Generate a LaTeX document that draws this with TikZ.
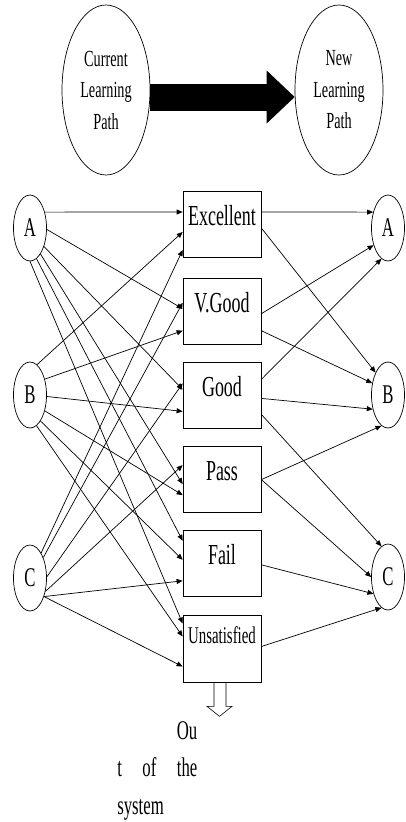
\documentclass[tikz,border=0pt]{standalone}
\usepackage{fontspec}
\setmainfont{Liberation Serif}[FakeStretch=0.62]
\usetikzlibrary{arrows.meta,positioning,shapes.geometric}

\begin{document}
\begin{tikzpicture}[
  x=1pt, y=1pt, line width=0.7pt, node distance=17.5pt,
  lpath/.style={draw, ellipse, minimum width=88pt, minimum height=170pt,
                inner sep=0pt, align=center,
                font=\fontsize{23}{31.5}\selectfont},
  state/.style={draw, ellipse, minimum width=33pt, minimum height=66pt,
                inner sep=0pt, font=\fontsize{27}{30}\selectfont},
  grade/.style={draw, minimum width=78pt, inner sep=0pt,
                text height=34pt, text depth=32pt,
                font=\fontsize{29}{34}\selectfont},
  bigarrow/.style={line width=27pt,
                   -{Triangle[length=28pt,width=53pt,line width=0pt]}},
  hollow/.style={draw, line width=0.6pt},
  >={Triangle[length=6pt,width=5pt]}]
\useasboundingbox (0,0) rectangle (406,-822);

% learning paths
\node[lpath] (cur) at (106,-90) {Current\\Learning\\Path};
\node[lpath] (new) at (339,-90) {New\\Learning\\Path};
\draw[bigarrow] ([yshift=-7pt]cur.east) -- ([yshift=-7pt]new.west);

% current states
\node[state] (lA) at (30,-228) {A};
\node[state] (lB) at (30,-395) {B};
\node[state] (lC) at (30,-578) {C};

% grades
\node[grade] (exc) at (222,-224.5) {Excellent};
\node[grade, below=20pt of exc] (vg) {V.Good};
\node[grade, below=of vg] (good) {Good};
\node[grade, below=of good] (pass) {Pass};
\node[grade, below=of pass] (fail) {Fail};
\node[grade, below=of fail, text height=28pt, text depth=39pt,
      font=\fontsize{24}{28}\selectfont] (uns) {Unsatisfied};

% new states
\node[state] (rA) at (388,-228) {A};
\node[state] (rB) at (388,-395) {B};
\node[state] (rC) at (388,-577) {C};

% from A
\draw[->] (lA.47) -- ([yshift=12.5pt]exc.west);
\draw[->] (lA.-5) -- ([yshift=2.5pt]vg.west);
\draw[->] (lA.-53) -- ([yshift=6pt]good.west);
\draw[->] (lA.-68) -- ([yshift=-4.5pt]pass.west);
\draw[->] (lA.-78) -- ([yshift=23pt]fail.west);
\draw[->] (lA.-90) -- ([yshift=25pt]uns.west);
% from B
\draw[->] (lB.77) -- ([yshift=-7.5pt]exc.west);
\draw[->] (lB.47) -- ([yshift=-19.5pt]vg.west);
\draw[->] (lB.-5) -- ([yshift=-16pt]good.west);
\draw[->] (lB.-47) -- ([yshift=-15.5pt]pass.west);
\draw[->] (lB.-68) -- ([yshift=4pt]fail.west);
\draw[->] (lB.-78) -- ([yshift=12pt]uns.west);
% from C
\draw[->] (lC.66) -- ([yshift=-25.5pt]exc.west);
\draw[->] (lC.57) -- ([yshift=8.5pt]vg.west);
\draw[->] (lC.4) -- ([yshift=12pt]good.west);
\draw[->] (lC.-41) -- ([yshift=14.5pt]pass.west);
\draw[->] (lC.-53) -- ([yshift=-17pt]fail.west);
\draw[->] (lC.-53) -- ([yshift=-18pt]uns.west);

% to the new path
\draw[->] ([yshift=12.5pt]exc.east) -- (rA.133);
\draw[->] ([yshift=-3.5pt]exc.east) -- (rB.119);
\draw[->] ([yshift=-2.5pt]vg.east) -- (rA.-130);
\draw[->] ([yshift=-19.5pt]vg.east) -- (rB.143);
\draw[->] ([yshift=16pt]good.east) -- (rA.-102);
\draw[->] ([yshift=-3pt]good.east) -- (rB.-137);
\draw[->] ([yshift=-19pt]good.east) -- (rC.102);
\draw[->] (pass.east) -- (rB.-102);
\draw[->] (pass.east) -- (rC.180);
\draw[->] ([yshift=-1pt]fail.east) -- (rC.-131);
\draw[->] ([yshift=2pt]uns.east) -- (rC.-102);

% leaving
\draw[hollow] ([xshift=-8pt]uns.south) -- ++(0,-24) -- ++(-7,0)
  -- ++(12.5,-10) -- ++(12.5,10) -- ++(-6,0) -- ++(0,24);
\node[anchor=north west, inner sep=0pt, text width=80pt, align=left,
      font=\fontsize{27}{37.5}\selectfont] (out) at (117,-721)
  {\hfill Ou\hspace*{3pt}\\t\hfill of\hfill the\\system};
\end{tikzpicture}
\end{document}
